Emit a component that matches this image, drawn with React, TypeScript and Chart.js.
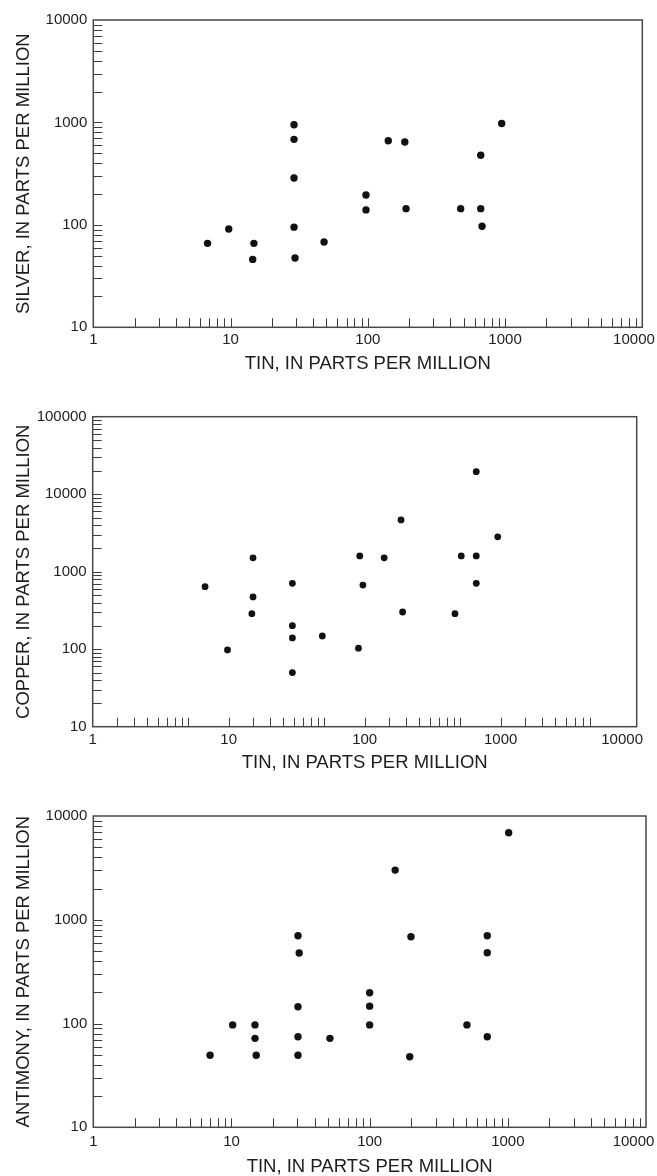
import React, { useEffect, useRef } from 'react';
import { Chart, registerables } from 'chart.js';

Chart.register(...registerables);

// ---------- Data ----------
// Chart 1: Silver vs Tin
const tinSilver = [6.8, 9.7, 14.8, 14.5, 29, 29, 29, 29, 29.5, 48, 141, 186, 97, 97, 190, 945, 665, 475, 665, 680];
const silver = [66, 91, 66, 46, 950, 684, 287, 95, 47.5, 68, 663, 645, 196, 140, 144, 977, 479, 144, 144, 97];

// Chart 2: Copper vs Tin
const tinCopper = [6.7, 9.8, 15.1, 15.1, 14.8, 29.4, 29.4, 29.4, 29.4, 48.8, 92, 97, 90, 139, 185, 190, 461, 513, 661, 661, 661, 951];
const copper = [640, 98, 1510, 472, 287, 708, 201, 140, 50, 148, 1600, 673, 103, 1510, 4650, 302, 287, 1600, 19500, 1600, 708, 2820];

// Chart 3: Antimony vs Tin
const tinAntimony = [7, 10.2, 14.8, 14.8, 15.1, 30.3, 30.9, 30.3, 30.3, 30.3, 51.6, 1014, 153, 199, 710, 710, 100, 100, 100, 506, 710, 195];
const antimony = [49.4, 97, 97, 72, 49.4, 702, 478, 145, 74.6, 49.4, 72, 6890, 3010, 685, 702, 481, 198, 147, 97, 97, 74.6, 47.9];

// Tick labels / decades
const xDecades = [1, 10, 100, 1000, 10000];
const yDecades4 = [10, 100, 1000, 10000];
const yDecades5 = [10, 100, 1000, 10000, 100000];

// Minor tick multipliers within each decade
const stdMinor = [2, 3, 4, 5, 6, 7, 8, 9, 10];
const copperTinMinor = [1.5, 2, 2.5, 3, 3.5, 4, 4.5, 5, 10];
const copperTinMinorLast = [1.5, 2, 2.5, 3, 3.5, 4, 4.5];

const xTitle = 'TIN, IN PARTS PER MILLION';

const FONT = '"Liberation Sans", Arial, Helvetica, sans-serif';
const TEXT = '#1e1c1d';
const FRAME = '#484848';
const TICK = '#3c3c3c';

function minorValues(decades: number[], mult: number[], lastMult?: number[]) {
  const out: number[] = [];
  for (let i = 0; i < decades.length - 1; i++) {
    const m = i === decades.length - 2 && lastMult ? lastMult : mult;
    for (const k of m) out.push(decades[i] * k);
  }
  return out;
}

const frameTicks = {
  id: 'frameTicks',
  afterDraw(chart: any, _args: any, opts: any) {
    const { ctx, chartArea: a, scales } = chart;
    const x = scales.x;
    const y = scales.y;
    ctx.save();
    ctx.strokeStyle = TICK;
    ctx.lineWidth = 1;
    ctx.beginPath();
    for (const v of opts.xTicks || []) {
      const px = Math.round(x.getPixelForValue(v)) + 0.5;
      if (px >= a.right - 1) continue;
      ctx.moveTo(px, a.bottom);
      ctx.lineTo(px, a.bottom - opts.len);
    }
    for (const v of opts.yTicks || []) {
      const py = Math.round(y.getPixelForValue(v)) + 0.5;
      if (py <= a.top + 1) continue;
      ctx.moveTo(a.left, py);
      ctx.lineTo(a.left + opts.len, py);
    }
    ctx.stroke();
    ctx.strokeStyle = FRAME;
    ctx.lineWidth = 1.5;
    ctx.strokeRect(a.left, a.top, a.right - a.left, a.bottom - a.top);
    ctx.restore();
  },
};

type Props = {
  top: number;
  height: number;
  xs: number[];
  ys: number[];
  yDecades: number[];
  yTitle: string;
  area: { left: number; top: number; right: number; bottom: number };
  xMinor: number[];
  xMinorLast?: number[];
  lastPad: number;
  xLabelPad: number;
  xTitlePad: number;
  radius: number;
};

function LogScatter(p: Props) {
  const ref = useRef<HTMLCanvasElement | null>(null);
  useEffect(() => {
    if (!ref.current) return;
    const W = 657;
    const points = p.xs.map((x, i) => ({ x, y: p.ys[i] }));
    const xTicks = minorValues(xDecades, p.xMinor, p.xMinorLast);
    const yTicks = minorValues(p.yDecades, stdMinor);
    const yMax = p.yDecades[p.yDecades.length - 1];
    const chart = new Chart(ref.current, {
      type: 'scatter',
      data: {
        datasets: [
          {
            data: points,
            backgroundColor: '#111111',
            borderWidth: 0,
            pointRadius: p.radius,
            pointHoverRadius: p.radius,
          },
        ],
      },
      plugins: [frameTicks],
      options: {
        animation: false,
        responsive: false,
        devicePixelRatio: 1,
        events: [],
        layout: {
          padding: { top: p.area.top, right: W - p.area.right, left: 0, bottom: 0 },
        },
        plugins: {
          legend: { display: false },
          tooltip: { enabled: false },
          frameTicks: { xTicks, yTicks, len: 9 },
        } as any,
        scales: {
          x: {
            type: 'logarithmic',
            min: 1,
            max: 10000,
            afterBuildTicks: (s: any) => {
              s.ticks = xDecades.map((v) => ({ value: v }));
            },
            afterFit: (s: any) => {
              s.height = p.height - p.area.bottom;
              s.paddingLeft = 0;
              s.paddingRight = 0;
            },
            grid: { display: false, drawTicks: false },
            border: { display: false },
            ticks: {
              autoSkip: false,
              maxRotation: 0,
              padding: p.xLabelPad,
              color: TEXT,
              font: { family: FONT, size: 15 },
              callback: (v: any) => {
                const n = Number(v);
                return n === 10000 ? '10000' + ' '.repeat(p.lastPad) : String(n);
              },
            },
            title: {
              display: true,
              text: xTitle,
              color: TEXT,
              font: { family: FONT, size: 18.5, lineHeight: 1 },
              padding: { top: 0, bottom: p.xTitlePad },
            },
          },
          y: {
            type: 'logarithmic',
            min: 10,
            max: yMax,
            afterBuildTicks: (s: any) => {
              s.ticks = p.yDecades.map((v) => ({ value: v }));
            },
            afterFit: (s: any) => {
              s.width = p.area.left;
              s.paddingTop = 0;
              s.paddingBottom = 0;
            },
            grid: { display: false, drawTicks: false },
            border: { display: false },
            ticks: {
              autoSkip: false,
              padding: 6,
              color: TEXT,
              font: { family: FONT, size: 15 },
              callback: (v: any) => String(Number(v)),
            },
            title: {
              display: true,
              text: p.yTitle,
              color: TEXT,
              font: { family: FONT, size: 18.5, lineHeight: 1 },
              padding: { top: 14.5, bottom: 0 },
            },
          },
        },
      } as any,
    });
    return () => chart.destroy();
  }, []);
  return (
    <div style={{ position: 'absolute', left: 0, top: p.top, width: 657, height: p.height }}>
      <canvas ref={ref} width={657} height={p.height} style={{ width: 657, height: p.height, display: 'block' }} />
    </div>
  );
}

export default function App() {
  return (
    <div style={{ position: 'absolute', left: 0, top: 0, width: 657, height: 1176, background: '#ffffff', overflow: 'hidden' }}>
      <LogScatter
        top={0}
        height={380}
        xs={tinSilver}
        ys={silver}
        yDecades={yDecades4}
        yTitle="SILVER, IN PARTS PER MILLION"
        area={{ left: 93.3, top: 20, right: 642.3, bottom: 327.3 }}
        xMinor={stdMinor}
        lastPad={4}
        xLabelPad={4}
        xTitlePad={6.75}
        radius={3.7}
      />
      <LogScatter
        top={385}
        height={395}
        xs={tinCopper}
        ys={copper}
        yDecades={yDecades5}
        yTitle="COPPER, IN PARTS PER MILLION"
        area={{ left: 92.7, top: 31.7, right: 636.7, bottom: 341.7 }}
        xMinor={copperTinMinor}
        xMinorLast={copperTinMinorLast}
        lastPad={7}
        xLabelPad={4.3}
        xTitlePad={8}
        radius={3.4}
      />
      <LogScatter
        top={790}
        height={386}
        xs={tinAntimony}
        ys={antimony}
        yDecades={yDecades4}
        yTitle="ANTIMONY, IN PARTS PER MILLION"
        area={{ left: 93.3, top: 26, right: 646, bottom: 337.3 }}
        xMinor={stdMinor}
        lastPad={6}
        xLabelPad={5.3}
        xTitlePad={0}
        radius={3.7}
      />
    </div>
  );
}
